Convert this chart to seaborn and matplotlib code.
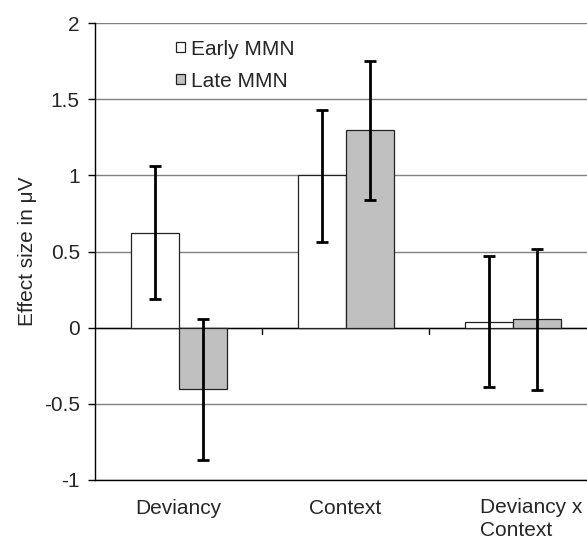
import numpy as np
import pandas as pd
import matplotlib
matplotlib.use("Agg")
import matplotlib.pyplot as plt
import matplotlib.transforms as mtransforms
import seaborn as sns

# values
effects = ["Deviancy", "Context", "Deviancy x\nContext"]
phases = ["Early MMN", "Late MMN"]
early_mean = [0.62, 1.00, 0.04]
late_mean = [-0.40, 1.30, 0.06]
early_lo = [0.19, 0.56, -0.39]
early_hi = [1.06, 1.43, 0.47]
late_lo = [-0.87, 0.84, -0.41]
late_hi = [0.06, 1.75, 0.52]

sns.set_theme(style="white")
plt.rcParams['font.family'] = ['Liberation Sans', 'DejaVu Sans']

df = pd.DataFrame({
    "Effect": effects * 2,
    "Phase": [phases[0]] * 3 + [phases[1]] * 3,
    "Value": early_mean + late_mean,
    "lo": early_lo + late_lo,
    "hi": early_hi + late_hi,
})

fig = plt.figure(figsize=(5.87, 5.39), dpi=100)
ax = fig.add_axes([0.162, 0.1095, 0.8535, 0.8475])

sns.barplot(data=df, x="Effect", y="Value", hue="Phase", order=effects,
            hue_order=phases, palette=["white", "#c0c0c0"], width=0.575,
            edgecolor="#222222", linewidth=0.9, errorbar=None, ax=ax,
            zorder=3)

# error bars at the bar centres
for container, (_, sub) in zip(ax.containers, df.groupby("Phase", sort=False)):
    xs = [p.get_x() + p.get_width() / 2 for p in container.patches]
    ys = sub["Value"].to_numpy()
    yerr = np.vstack([ys - sub["lo"].to_numpy(), sub["hi"].to_numpy() - ys])
    ax.errorbar(xs, ys, yerr=yerr, fmt="none", ecolor="black", elinewidth=2,
                capsize=4.5, capthick=2, zorder=4)

ax.set_ylim(-1, 2)
ax.set_xlim(-0.5, 2.5)
ax.set_yticks(np.arange(-1, 2.01, 0.5))
ax.set_yticklabels(["-1", "-0.5", "0", "0.5", "1", "1.5", "2"])
ax.yaxis.grid(True, color="#808080", linewidth=1.0)
ax.set_axisbelow(True)

# zero axis with category tick marks
ax.axhline(0, color="black", linewidth=1.0, zorder=2)
for b in [0.5, 1.5]:
    ax.plot([b, b], [0, -0.04], color="black", linewidth=1.0, zorder=2)

for s in ["top", "right"]:
    ax.spines[s].set_visible(False)
for s in ["left", "bottom"]:
    ax.spines[s].set_color("black")
    ax.spines[s].set_linewidth(1.0)

ax.tick_params(axis="y", which="both", left=True, length=5, width=1,
               color="black", labelsize=15, pad=6)
ax.tick_params(axis="x", bottom=False, labelsize=15, pad=8)

# last category label: wrapped, left-aligned, shifted left like the original
ax.set_xticks(range(3))
ax.set_xticklabels(effects[:2] + [""])
shift = mtransforms.ScaledTranslation(-0.33, 0, fig.dpi_scale_trans)
ax.text(2, -0.039, effects[2], transform=ax.get_xaxis_transform() + shift,
        ha="left", va="top", fontsize=15, multialignment="left",
        linespacing=1.27)

ax.set_xlabel("")
ax.set_ylabel("Effect size in μV", fontsize=15, labelpad=5)

ax.legend(loc="upper left", bbox_to_anchor=(0.125, 1.005), frameon=False,
          fontsize=15, handlelength=0.4, handleheight=0.4,
          handletextpad=0.3, labelspacing=0.62)

fig.savefig("out.png", dpi=100)
